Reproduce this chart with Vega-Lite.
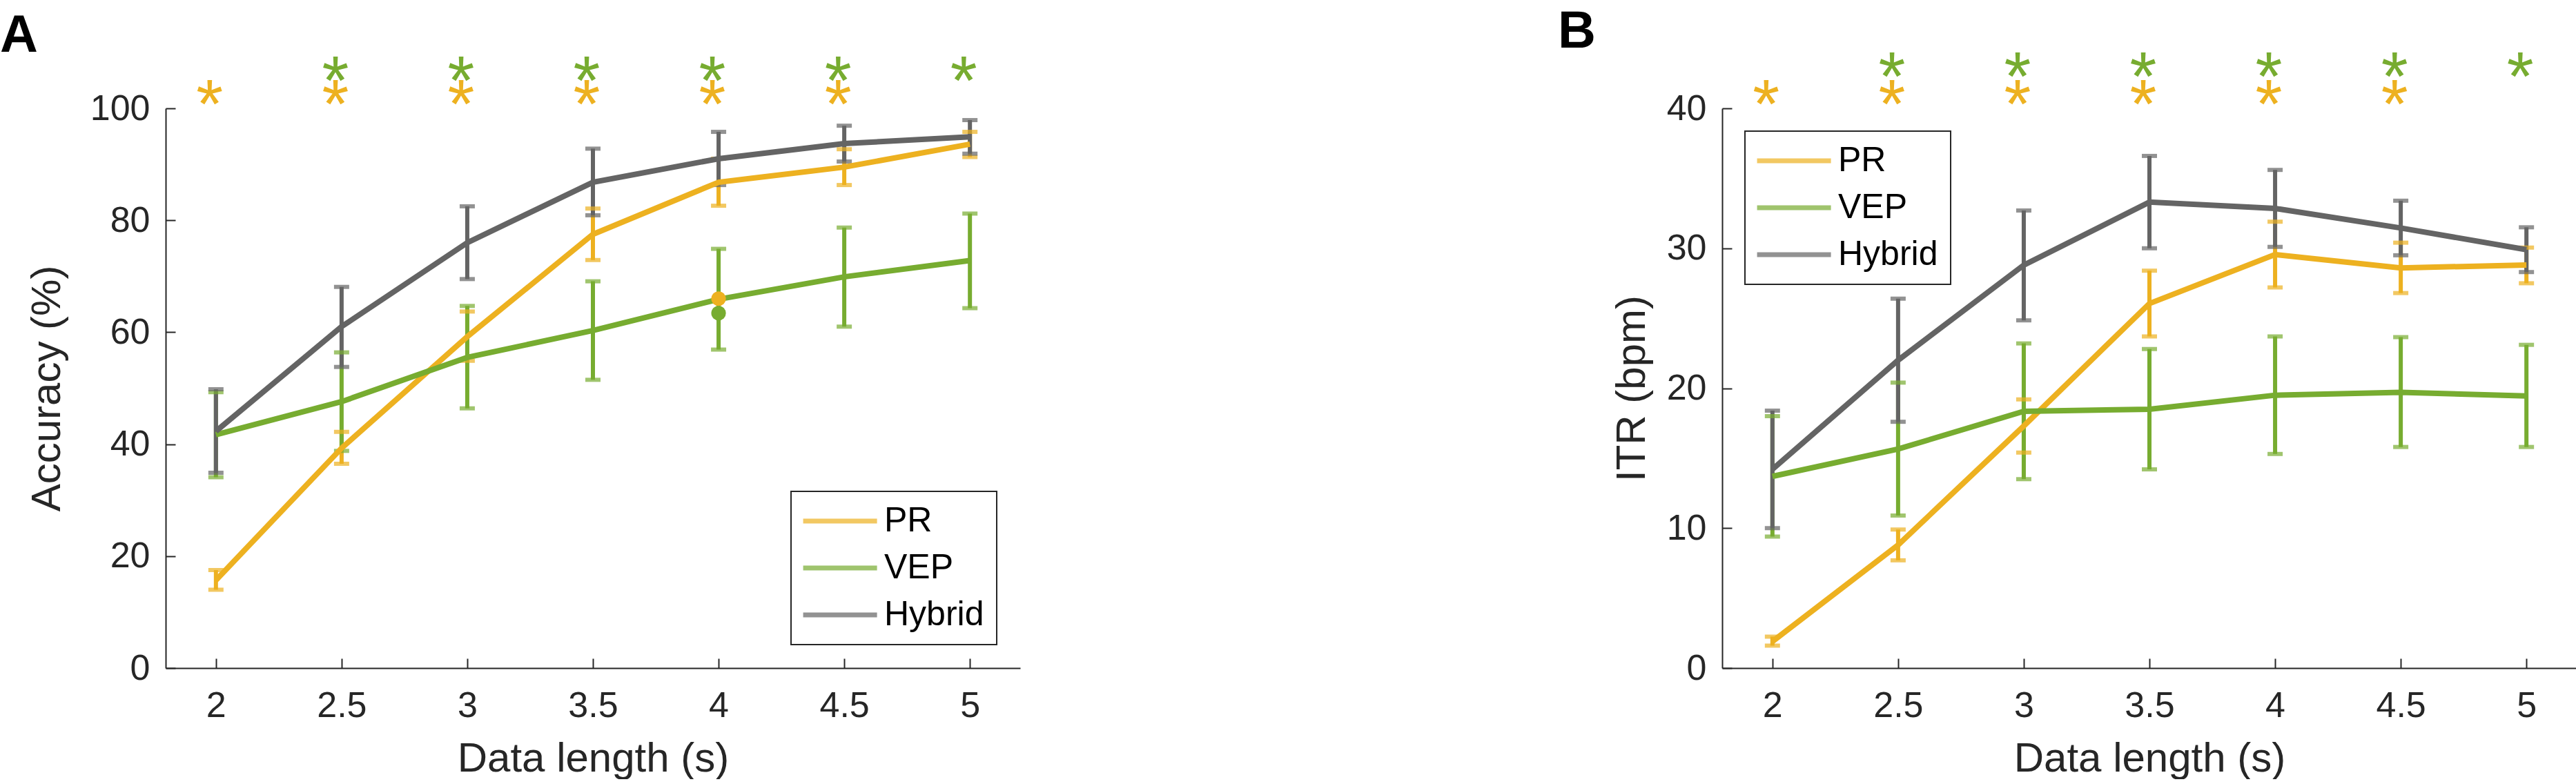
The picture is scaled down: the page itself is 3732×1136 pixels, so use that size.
{
  "$schema": "https://vega.github.io/schema/vega-lite/v6.json",
  "padding": {"left": 0, "top": 8, "right": 0, "bottom": 0},
  "background": "white",
  "datasets": {
    "acc": [
      {"length": 2, "method": "PR", "mean": 15.7, "lo": 14.0, "hi": 17.5},
      {"length": 2.5, "method": "PR", "mean": 39.3, "lo": 36.5, "hi": 42.2},
      {"length": 3, "method": "PR", "mean": 59.2, "lo": 54.9, "hi": 63.7},
      {"length": 3.5, "method": "PR", "mean": 77.5, "lo": 72.9, "hi": 82.1},
      {"length": 4, "method": "PR", "mean": 86.8, "lo": 82.6, "hi": 91.0},
      {"length": 4.5, "method": "PR", "mean": 89.5, "lo": 86.3, "hi": 92.7},
      {"length": 5, "method": "PR", "mean": 93.6, "lo": 91.3, "hi": 95.8},
      {"length": 2, "method": "VEP", "mean": 41.7, "lo": 34.1, "hi": 49.3},
      {"length": 2.5, "method": "VEP", "mean": 47.6, "lo": 38.8, "hi": 56.4},
      {"length": 3, "method": "VEP", "mean": 55.5, "lo": 46.4, "hi": 64.7},
      {"length": 3.5, "method": "VEP", "mean": 60.3, "lo": 51.5, "hi": 69.1},
      {"length": 4, "method": "VEP", "mean": 65.9, "lo": 56.9, "hi": 74.9},
      {"length": 4.5, "method": "VEP", "mean": 69.9, "lo": 61.0, "hi": 78.7},
      {"length": 5, "method": "VEP", "mean": 72.8, "lo": 64.3, "hi": 81.2},
      {"length": 2, "method": "Hybrid", "mean": 42.3, "lo": 34.9, "hi": 49.8},
      {"length": 2.5, "method": "Hybrid", "mean": 61.0, "lo": 53.8, "hi": 68.1},
      {"length": 3, "method": "Hybrid", "mean": 76.0, "lo": 69.5, "hi": 82.5},
      {"length": 3.5, "method": "Hybrid", "mean": 86.8, "lo": 80.9, "hi": 92.8},
      {"length": 4, "method": "Hybrid", "mean": 91.0, "lo": 86.3, "hi": 95.8},
      {"length": 4.5, "method": "Hybrid", "mean": 93.7, "lo": 90.5, "hi": 96.9},
      {"length": 5, "method": "Hybrid", "mean": 94.9, "lo": 91.9, "hi": 97.9}
    ],
    "accDots": [
      {"length": 4, "method": "PR", "value": 66.0},
      {"length": 4, "method": "VEP", "value": 63.4}
    ],
    "itr": [
      {"length": 2, "method": "PR", "mean": 1.9, "lo": 1.6, "hi": 2.25},
      {"length": 2.5, "method": "PR", "mean": 8.8, "lo": 7.7, "hi": 9.9},
      {"length": 3, "method": "PR", "mean": 17.3, "lo": 15.4, "hi": 19.2},
      {"length": 3.5, "method": "PR", "mean": 26.05, "lo": 23.7, "hi": 28.4},
      {"length": 4, "method": "PR", "mean": 29.55, "lo": 27.2, "hi": 31.9},
      {"length": 4.5, "method": "PR", "mean": 28.6, "lo": 26.8, "hi": 30.4},
      {"length": 5, "method": "PR", "mean": 28.8, "lo": 27.5, "hi": 30.05},
      {"length": 2, "method": "VEP", "mean": 13.7, "lo": 9.4, "hi": 18.0},
      {"length": 2.5, "method": "VEP", "mean": 15.65, "lo": 10.9, "hi": 20.4},
      {"length": 3, "method": "VEP", "mean": 18.35, "lo": 13.5, "hi": 23.2},
      {"length": 3.5, "method": "VEP", "mean": 18.5, "lo": 14.2, "hi": 22.8},
      {"length": 4, "method": "VEP", "mean": 19.5, "lo": 15.3, "hi": 23.7},
      {"length": 4.5, "method": "VEP", "mean": 19.7, "lo": 15.8, "hi": 23.65},
      {"length": 5, "method": "VEP", "mean": 19.45, "lo": 15.8, "hi": 23.1},
      {"length": 2, "method": "Hybrid", "mean": 14.2, "lo": 10.0, "hi": 18.4},
      {"length": 2.5, "method": "Hybrid", "mean": 22.0, "lo": 17.6, "hi": 26.4},
      {"length": 3, "method": "Hybrid", "mean": 28.8, "lo": 24.85, "hi": 32.7},
      {"length": 3.5, "method": "Hybrid", "mean": 33.3, "lo": 30.0, "hi": 36.6},
      {"length": 4, "method": "Hybrid", "mean": 32.85, "lo": 30.1, "hi": 35.6},
      {"length": 4.5, "method": "Hybrid", "mean": 31.45, "lo": 29.5, "hi": 33.4},
      {"length": 5, "method": "Hybrid", "mean": 29.9, "lo": 28.3, "hi": 31.5}
    ],
    "stars": [
      {"length": 2, "method": "PR"},
      {"length": 2.5, "method": "PR"},
      {"length": 3, "method": "PR"},
      {"length": 3.5, "method": "PR"},
      {"length": 4, "method": "PR"},
      {"length": 4.5, "method": "PR"},
      {"length": 2.5, "method": "VEP"},
      {"length": 3, "method": "VEP"},
      {"length": 3.5, "method": "VEP"},
      {"length": 4, "method": "VEP"},
      {"length": 4.5, "method": "VEP"},
      {"length": 5, "method": "VEP"}
    ]
  },
  "hconcat": [
    {
      "width": 1238,
      "height": 811,
      "title": {"text": "A", "anchor": "start", "frame": "group", "dx": -240, "offset": -20},
      "encoding": {
        "x": {
          "field": "length",
          "type": "quantitative",
          "title": "Data length (s)",
          "scale": {"domain": [1.8, 5.2], "nice": false, "zero": false},
          "axis": {"values": [2, 2.5, 3, 3.5, 4, 4.5, 5], "format": "~g"}
        },
        "color": {
          "field": "method",
          "type": "nominal",
          "scale": {"domain": ["PR", "VEP", "Hybrid"], "range": ["#EDB120", "#77AC30", "#646464"]},
          "legend": {"orient": "bottom-right", "offset": 34, "title": null}
        }
      },
      "layer": [
        {
          "data": {"name": "acc"},
          "mark": {"type": "rule", "strokeWidth": 6},
          "encoding": {
            "y": {
              "field": "lo",
              "type": "quantitative",
              "title": "Accuracy (%)",
              "scale": {"domain": [0, 100], "nice": false},
              "axis": {"values": [0, 20, 40, 60, 80, 100], "titlePadding": 31}
            },
            "y2": {"field": "hi"}
          }
        },
        {
          "data": {"name": "acc"},
          "mark": {"type": "tick", "orient": "horizontal", "size": 22, "thickness": 6},
          "encoding": {"y": {"field": "lo", "type": "quantitative", "title": "Accuracy (%)"}}
        },
        {
          "data": {"name": "acc"},
          "mark": {"type": "tick", "orient": "horizontal", "size": 22, "thickness": 6},
          "encoding": {"y": {"field": "hi", "type": "quantitative", "title": "Accuracy (%)"}}
        },
        {
          "data": {"name": "acc"},
          "mark": {"type": "line", "strokeWidth": 8},
          "encoding": {"y": {"field": "mean", "type": "quantitative", "title": "Accuracy (%)"}}
        },
        {
          "data": {"name": "accDots"},
          "mark": {"type": "point", "filled": true, "opacity": 1, "size": 450, "shape": "circle"},
          "encoding": {"y": {"field": "value", "type": "quantitative", "title": "Accuracy (%)"}}
        },
        {
          "data": {"name": "stars"},
          "transform": [{"filter": "datum.method === 'PR'"}],
          "mark": {"type": "text", "text": "*", "fontSize": 100, "baseline": "alphabetic", "dy": 47, "dx": -9},
          "encoding": {"y": {"datum": 102.4}}
        },
        {
          "data": {"name": "stars"},
          "transform": [{"filter": "datum.method === 'VEP'"}],
          "mark": {"type": "text", "text": "*", "fontSize": 100, "baseline": "alphabetic", "dy": 47, "dx": -9},
          "encoding": {"y": {"datum": 106.5}}
        }
      ]
    },
    {
      "width": 1238,
      "height": 811,
      "title": {"text": "B", "anchor": "start", "frame": "group", "dx": -238, "offset": -20},
      "encoding": {
        "x": {
          "field": "length",
          "type": "quantitative",
          "title": "Data length (s)",
          "scale": {"domain": [1.8, 5.2], "nice": false, "zero": false},
          "axis": {"values": [2, 2.5, 3, 3.5, 4, 4.5, 5], "format": "~g"}
        },
        "color": {
          "field": "method",
          "type": "nominal",
          "scale": {"domain": ["PR", "VEP", "Hybrid"], "range": ["#EDB120", "#77AC30", "#646464"]},
          "legend": {"orient": "top-left", "offset": 33, "title": null}
        }
      },
      "layer": [
        {
          "data": {"name": "itr"},
          "mark": {"type": "rule", "strokeWidth": 6},
          "encoding": {
            "y": {
              "field": "lo",
              "type": "quantitative",
              "title": "ITR (bpm)",
              "scale": {"domain": [0, 40], "nice": false},
              "axis": {"values": [0, 10, 20, 30, 40], "titlePadding": 19}
            },
            "y2": {"field": "hi"}
          }
        },
        {
          "data": {"name": "itr"},
          "mark": {"type": "tick", "orient": "horizontal", "size": 22, "thickness": 6},
          "encoding": {"y": {"field": "lo", "type": "quantitative", "title": "ITR (bpm)"}}
        },
        {
          "data": {"name": "itr"},
          "mark": {"type": "tick", "orient": "horizontal", "size": 22, "thickness": 6},
          "encoding": {"y": {"field": "hi", "type": "quantitative", "title": "ITR (bpm)"}}
        },
        {
          "data": {"name": "itr"},
          "mark": {"type": "line", "strokeWidth": 8},
          "encoding": {"y": {"field": "mean", "type": "quantitative", "title": "ITR (bpm)"}}
        },
        {
          "data": {"name": "stars"},
          "transform": [{"filter": "datum.method === 'PR'"}],
          "mark": {"type": "text", "text": "*", "fontSize": 100, "baseline": "alphabetic", "dy": 47, "dx": -9},
          "encoding": {"y": {"datum": 40.96}}
        },
        {
          "data": {"name": "stars"},
          "transform": [{"filter": "datum.method === 'VEP'"}],
          "mark": {"type": "text", "text": "*", "fontSize": 100, "baseline": "alphabetic", "dy": 47, "dx": -9},
          "encoding": {"y": {"datum": 42.9}}
        }
      ]
    }
  ],
  "spacing": 779,
  "resolve": {"scale": {"x": "independent", "y": "independent", "color": "independent"}},
  "config": {
    "font": "Liberation Sans",
    "view": {"stroke": null},
    "axis": {
      "grid": false,
      "domainColor": "#262626",
      "domainWidth": 2,
      "tickColor": "#262626",
      "tickWidth": 2,
      "tickSize": -14,
      "labelFont": "Liberation Sans",
      "labelFontSize": 52,
      "labelColor": "#262626",
      "titleFont": "Liberation Sans",
      "titleFontSize": 60,
      "titleFontWeight": "normal",
      "titleColor": "#262626"
    },
    "axisX": {"labelPadding": 43, "titlePadding": 22},
    "axisY": {"labelPadding": 37},
    "legend": {
      "symbolType": "M-1.9,0H6.1",
      "symbolSize": 716,
      "symbolStrokeWidth": 7,
      "labelFont": "Liberation Sans",
      "labelFontSize": 50,
      "labelColor": "#000000",
      "labelOffset": 67,
      "padding": 18,
      "rowPadding": 18,
      "strokeColor": "#262626",
      "strokeWidth": 2,
      "fillColor": "white"
    },
    "title": {
      "font": "Liberation Sans",
      "fontSize": 76,
      "fontWeight": "bold",
      "color": "#000000"
    }
  }
}
